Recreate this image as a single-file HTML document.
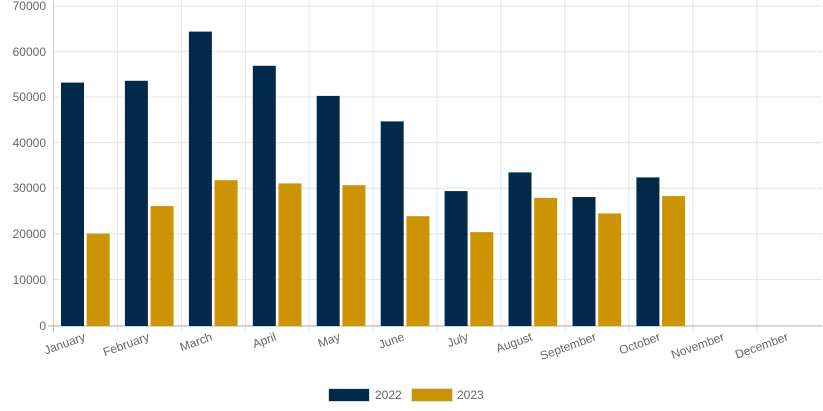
<!DOCTYPE html>
<html><head><meta charset="utf-8"><style>
html,body{margin:0;padding:0;background:#fff;}
svg{display:block;font-family:"Liberation Sans",sans-serif;}
</style></head><body>
<svg width="823" height="411" viewBox="0 0 823 411" xmlns="http://www.w3.org/2000/svg">
<g stroke="#e3e3e3" stroke-width="1">
<line x1="53.5" y1="6" x2="822" y2="6"/>
<line x1="53.5" y1="51.6" x2="822" y2="51.6"/>
<line x1="53.5" y1="97.1" x2="822" y2="97.1"/>
<line x1="53.5" y1="142.7" x2="822" y2="142.7"/>
<line x1="53.5" y1="188.3" x2="822" y2="188.3"/>
<line x1="53.5" y1="233.9" x2="822" y2="233.9"/>
<line x1="53.5" y1="279.4" x2="822" y2="279.4"/>
<line x1="117.4" y1="0" x2="117.4" y2="332"/>
<line x1="181.4" y1="0" x2="181.4" y2="332"/>
<line x1="245.3" y1="0" x2="245.3" y2="332"/>
<line x1="309.2" y1="0" x2="309.2" y2="332"/>
<line x1="373.2" y1="0" x2="373.2" y2="332"/>
<line x1="437.1" y1="0" x2="437.1" y2="332"/>
<line x1="501.0" y1="0" x2="501.0" y2="332"/>
<line x1="565.0" y1="0" x2="565.0" y2="332"/>
<line x1="628.9" y1="0" x2="628.9" y2="332"/>
<line x1="692.8" y1="0" x2="692.8" y2="332"/>
<line x1="756.7" y1="0" x2="756.7" y2="332"/>
</g>
<line x1="53.5" y1="0" x2="53.5" y2="332" stroke="#ccc"/>
<line x1="48" y1="326" x2="822" y2="326" stroke="#aaa"/>
<g fill="#666" font-size="12" text-anchor="end">
<text x="46" y="10">70000</text>
<text x="46" y="56">60000</text>
<text x="46" y="101">50000</text>
<text x="46" y="147">40000</text>
<text x="46" y="192">30000</text>
<text x="46" y="238">20000</text>
<text x="46" y="284">10000</text>
<text x="46" y="330">0</text>
</g>
<g id="bars">
<rect x="61" y="82.6" width="23" height="243.4" fill="#012a4a"/>
<rect x="86.7" y="233.5" width="23" height="92.5" fill="#cc9400"/>
<rect x="124.9" y="80.8" width="23" height="245.2" fill="#012a4a"/>
<rect x="150.6" y="206.1" width="23" height="119.9" fill="#cc9400"/>
<rect x="188.9" y="31.6" width="23" height="294.4" fill="#012a4a"/>
<rect x="214.6" y="180.2" width="23" height="145.8" fill="#cc9400"/>
<rect x="252.8" y="65.8" width="23" height="260.2" fill="#012a4a"/>
<rect x="278.5" y="183.4" width="23" height="142.6" fill="#cc9400"/>
<rect x="316.7" y="95.9" width="23" height="230.1" fill="#012a4a"/>
<rect x="342.4" y="185.2" width="23" height="140.8" fill="#cc9400"/>
<rect x="380.7" y="121.4" width="23" height="204.6" fill="#012a4a"/>
<rect x="406.4" y="216.2" width="23" height="109.8" fill="#cc9400"/>
<rect x="444.6" y="191.1" width="23" height="134.9" fill="#012a4a"/>
<rect x="470.3" y="232.1" width="23" height="93.9" fill="#cc9400"/>
<rect x="508.5" y="172.4" width="23" height="153.6" fill="#012a4a"/>
<rect x="534.2" y="197.9" width="23" height="128.1" fill="#cc9400"/>
<rect x="572.5" y="197.0" width="23" height="129.0" fill="#012a4a"/>
<rect x="598.2" y="213.4" width="23" height="112.6" fill="#cc9400"/>
<rect x="636.4" y="177.4" width="23" height="148.6" fill="#012a4a"/>
<rect x="662.1" y="196.1" width="23" height="129.9" fill="#cc9400"/>
</g>
<g fill="#666" font-size="12" text-anchor="end">
<text transform="translate(86,340) rotate(-20)">January</text>
<text transform="translate(150,340) rotate(-20)">February</text>
<text transform="translate(213,340) rotate(-20)">March</text>
<text transform="translate(277,340) rotate(-20)">April</text>
<text transform="translate(341,340) rotate(-20)">May</text>
<text transform="translate(405,340) rotate(-20)">June</text>
<text transform="translate(469,340) rotate(-20)">July</text>
<text transform="translate(533,340) rotate(-20)">August</text>
<text transform="translate(597,340) rotate(-20)">September</text>
<text transform="translate(661,340) rotate(-20)">October</text>
<text transform="translate(725,340) rotate(-20)">November</text>
<text transform="translate(789,340) rotate(-20)">December</text>
</g>
<rect x="328.5" y="388.5" width="41" height="13" fill="#012a4a" stroke="#ddd"/>
<text x="375" y="399" fill="#666" font-size="12">2022</text>
<rect x="411.5" y="388.5" width="41" height="13" fill="#cc9400" stroke="#ddd"/>
<text x="457" y="399" fill="#666" font-size="12">2023</text>
</svg>
</body></html>
